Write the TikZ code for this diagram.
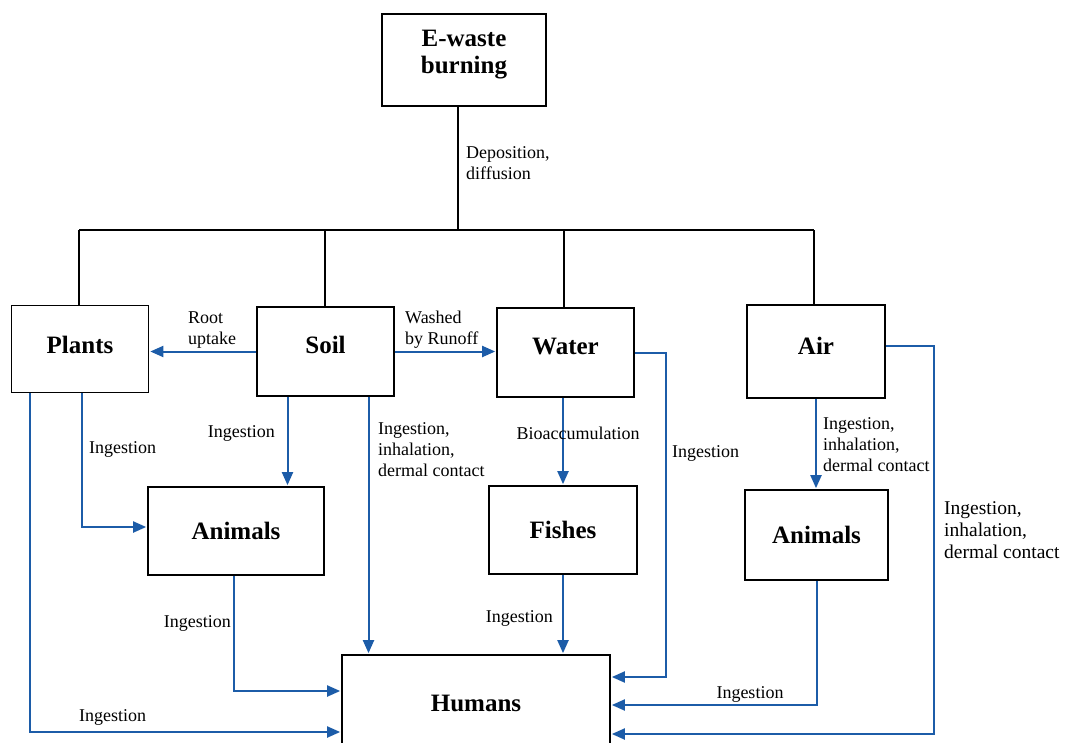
\documentclass[tikz,border=0pt]{standalone}
\usepackage{fontspec}
\setmainfont{Liberation Serif}
\usetikzlibrary{arrows.meta}
\definecolor{flowblue}{RGB}{28,92,168}
\begin{document}
\begin{tikzpicture}[x=1pt,y=-1pt,
  box/.style={draw=black,line width=1.7pt,fill=white,inner sep=0pt,
    font=\fontsize{25}{27}\selectfont\bfseries,align=center},
  up/.style={text height=17pt,text depth=#1},
  tree/.style={draw=black,line width=1.7pt},
  flow/.style={draw=flowblue,line width=2pt,-{Triangle[length=13pt,width=11pt]},shorten >=1pt},
  lbl/.style={inner sep=0pt,font=\fontsize{18}{21}\selectfont,align=left},
  biglbl/.style={inner sep=0pt,font=\fontsize{19.5}{22}\selectfont,align=left}]
\useasboundingbox (0,0) rectangle (1066,742);
\clip (0,0) rectangle (1066,742);
\fill[white] (0,0) rectangle (1066,742);

% boxes
\node[box,minimum width=164pt,minimum height=92pt] (ew) at (464,60) {E-waste\\burning\vphantom{Ag}\\[-10pt]};
\node[box,up=8pt,minimum width=137pt,minimum height=87pt] (plants) at (80,349) {Plants};
\node[box,up=14pt,minimum width=137pt,minimum height=89pt] (soil) at (325.5,351.5) {Soil};
\node[box,up=14pt,minimum width=137pt,minimum height=89pt] (water) at (565.5,352.5) {Water};
\node[box,up=12pt,minimum width=138pt,minimum height=93pt] (air) at (816,351.5) {Air};
\node[box,minimum width=176pt,minimum height=88pt] (an1) at (236,531) {Animals};
\node[box,minimum width=148pt,minimum height=88pt] (fish) at (563,530) {Fishes};
\node[box,minimum width=143pt,minimum height=90pt] (an2) at (816.5,535) {Animals};
\node[box,minimum width=268pt,minimum height=96pt] (hum) at (476,703) {Humans};

% distribution tree
\coordinate (tr) at (458,230);
\coordinate (b1) at (79,230);
\coordinate (b2) at (325,230);
\coordinate (b3) at (564,230);
\coordinate (b4) at (814,230);
\draw[tree] (ew.south -| tr) -- (tr);
\draw[tree] (b1) -- (b4);
\draw[tree] (b1) -- (b1 |- plants.north);
\draw[tree] (b2) -- (b2 |- soil.north);
\draw[tree] (b3) -- (b3 |- water.north);
\draw[tree] (b4) -- (b4 |- air.north);

% blue flows
\draw[flow] (soil.west) -- (soil.west -| plants.east);
\draw[flow] (soil.east) -- (soil.east -| water.west);
\coordinate (wr) at (666,677);
\draw[flow] (water.east) -| (wr) -- (wr -| hum.east);
\coordinate (ar) at (934,734);
\draw[flow] ([yshift=6pt]air.east) -| (ar) -- (ar -| hum.east);
\draw[flow] (air.south) -- (air.south |- an2.north);
\draw[flow] (an2.south) |- ([yshift=-2pt]hum.east);
\draw[flow] (water.south -| fish.north) -- (fish.north);
\draw[flow] (fish.south) -- (fish.south |- hum.north);
\draw[flow] ([xshift=-38pt]soil.south) -- ([xshift=-38pt]soil.south |- an1.north);
\draw[flow] ([xshift=43pt]soil.south) -- ([xshift=43pt]soil.south |- hum.north);
\draw[flow] ([xshift=2pt]plants.south) |- ([yshift=4pt]an1.west);
\draw[flow] ([xshift=-50pt]plants.south) |- ([yshift=-29pt]hum.west);
\draw[flow] ([xshift=-2pt]an1.south) |- ([yshift=12pt]hum.west);

% labels
\node[lbl,anchor=west] (ldep) at (466,163) {Deposition,\\diffusion};
\node[lbl,anchor=west] (lroot) at (188,330) {Root\\uptake};
\node[lbl,anchor=west] (lwash) at (405,330) {Washed\\by Runoff};
\node[lbl,anchor=east] (ls1) at (275,433) {Ingestion};
\node[lbl,anchor=west] (lp1) at (89,449) {Ingestion};
\node[lbl,anchor=west] (ls2) at (378,450) {Ingestion,\\inhalation,\\dermal contact};
\node[lbl,anchor=center] (lbio) at (578,433) {Bioaccumulation};
\node[lbl,anchor=west] (lw1) at (672,453) {Ingestion};
\node[lbl,anchor=west] (la1) at (823,445) {Ingestion,\\inhalation,\\dermal contact};
\node[biglbl,anchor=west] (la2) at (944,530) {Ingestion,\\inhalation,\\dermal contact};
\node[lbl,anchor=east] (lf1) at (553,618) {Ingestion};
\node[lbl,anchor=east] (lan1) at (231,623) {Ingestion};
\node[lbl,anchor=west] (lp2) at (79,717) {Ingestion};
\node[lbl,anchor=center] (lan2) at (750,694) {Ingestion};
\end{tikzpicture}
\end{document}
